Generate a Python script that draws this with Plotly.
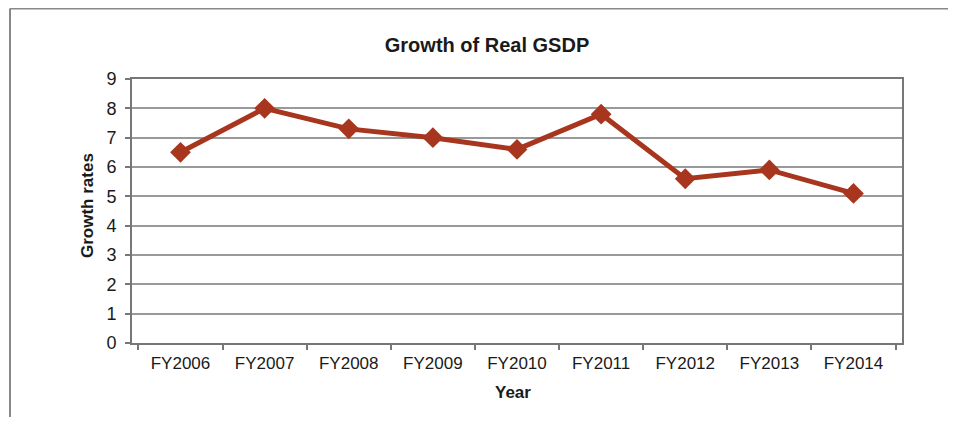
import plotly.graph_objects as go

years = ["FY2006", "FY2007", "FY2008", "FY2009", "FY2010", "FY2011", "FY2012", "FY2013", "FY2014"]
growth = [6.5, 8.0, 7.3, 7.0, 6.6, 7.8, 5.6, 5.9, 5.1]
y_ticks = [0, 1, 2, 3, 4, 5, 6, 7, 8, 9]

# page has an 8px body margin on every side; figure sized to fit the 956x425 window
OFF = 8
W, H = 956 - 2 * OFF, 425 - 2 * OFF
L, T = 132 - OFF, 79 - OFF
R = (956 - OFF) - 902
B = (425 - OFF) - 343
pw, ph = W - L - R, H - T - B

def px(x):  # page x -> paper x
    return (x - OFF - L) / pw

def py(y):  # page y -> paper y
    return (H - B - (y - OFF)) / ph

RED = "#A8361F"

fig = go.Figure()
fig.add_trace(go.Scatter(
    x=years, y=growth, mode="lines+markers",
    line=dict(color=RED, width=5),
    marker=dict(symbol="diamond", size=16, color=RED),
    showlegend=False,
))

fig.update_layout(
    width=W, height=H,
    margin=dict(l=L, r=R, t=T, b=B),
    paper_bgcolor="#ffffff",
    plot_bgcolor="#ffffff",
    font=dict(family="Liberation Sans, Arial, sans-serif", color="#1a1a1a", size=17),
    title=dict(text="<b>Growth of Real GSDP</b>", xref="container", x=(487 - OFF) / W, xanchor="center",
               yref="container", y=1 - (45 - OFF) / H, yanchor="middle",
               font=dict(size=20, color="#1a1a1a")),
    xaxis=dict(
        type="category", tickson="boundaries", ticks="outside", ticklen=5,
        tickcolor="#777777", tickwidth=1.5,
        showline=True, linecolor="#777777", linewidth=2, mirror=True,
        showgrid=False, tickfont=dict(size=17), ticklabelstandoff=4,
    ),
    yaxis=dict(
        range=[0, 9], tickvals=y_ticks, ticks="outside", ticklen=5,
        tickcolor="#777777", tickwidth=1.5,
        showline=True, linecolor="#777777", linewidth=2, mirror=True,
        showgrid=True, gridcolor="#999999", gridwidth=1.5,
        zeroline=False, tickfont=dict(size=18), ticklabelstandoff=5,
    ),
    annotations=[
        dict(text="<b>Year</b>", xref="paper", yref="paper", x=px(513), y=py(392),
             xanchor="center", yanchor="middle", showarrow=False, font=dict(size=17)),
        dict(text="<b>Growth rates</b>", xref="paper", yref="paper", x=px(87), y=py(206),
             xanchor="center", yanchor="middle", showarrow=False, textangle=-90,
             font=dict(size=17)),
    ],
    shapes=[
        dict(type="line", xref="paper", yref="paper", x0=px(10), x1=px(10), y0=py(8.5), y1=py(440),
             line=dict(color="#888888", width=2)),
        dict(type="line", xref="paper", yref="paper", x0=px(10), x1=px(970), y0=py(8.5), y1=py(8.5),
             line=dict(color="#888888", width=2)),
    ],
)

fig.write_html("out.html")
